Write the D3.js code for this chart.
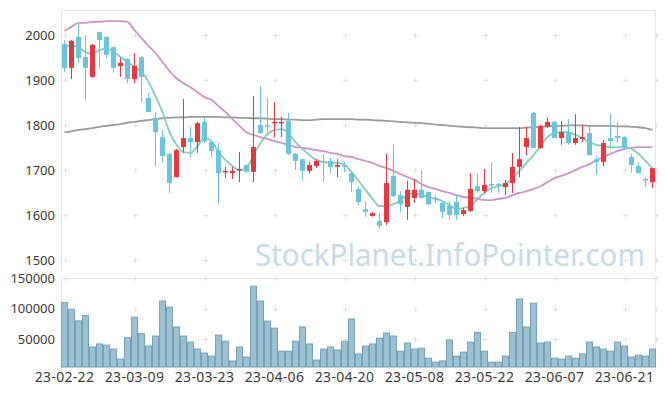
<!DOCTYPE html>
<html>
<head>
<meta charset="utf-8">
<script src="https://cdn.jsdelivr.net/npm/d3@7"></script>
<style>
  body { margin: 0; background: #fff; }
  svg { display: block; font-family: "Noto Sans", sans-serif; }
</style>
</head>
<body>
<svg id="chart" width="665" height="396"></svg>
<script>
const dates = ['23-02-22','23-02-23','23-02-24','23-02-27','23-02-28','23-03-02','23-03-03','23-03-06','23-03-07','23-03-08',
    '23-03-09','23-03-10','23-03-13','23-03-14','23-03-15','23-03-16','23-03-17','23-03-20','23-03-21','23-03-22',
    '23-03-23','23-03-24','23-03-27','23-03-28','23-03-29','23-03-30','23-03-31','23-04-03','23-04-04','23-04-05',
    '23-04-06','23-04-07','23-04-10','23-04-11','23-04-12','23-04-13','23-04-14','23-04-17','23-04-18','23-04-19',
    '23-04-20','23-04-21','23-04-24','23-04-25','23-04-26','23-04-27','23-04-28','23-05-02','23-05-03','23-05-04',
    '23-05-08','23-05-09','23-05-10','23-05-11','23-05-12','23-05-15','23-05-16','23-05-17','23-05-18','23-05-19',
    '23-05-22','23-05-23','23-05-24','23-05-25','23-05-26','23-05-30','23-05-31','23-06-01','23-06-02','23-06-05',
    '23-06-07','23-06-08','23-06-09','23-06-12','23-06-13','23-06-14','23-06-15','23-06-16','23-06-19','23-06-20',
    '23-06-21','23-06-22','23-06-23','23-06-26','23-06-27'];

const open = [1980,1927,1996,1951,1907,2007,1996,1973,1931,1947,
    1902,1951,1860,1816,1773,1736,1684,1751,1771,1762,
    1807,1762,1744,1695,1693,1700,1711,1696,1800,1800,
    1804,1804,1809,1736,1724,1698,1709,1720,1720,1707,
    1711,1693,1658,1613,1598,1587,1584,1687,1644,1618,
    1638,1656,1651,1638,1627,1620,1629,1602,1609,1664,
    1653,1669,1669,1662,1671,1707,1751,1827,1749,1796,
    1807,1771,1784,1760,1769,1782,1724,1718,1771,1776,
    1773,1729,1709,1680,1673];
const high = [1989,1989,2026,2000,1980,2007,1996,1975,1949,1949,
    1960,1953,1871,1829,1789,1738,1747,1858,1796,1807,
    1818,1764,1760,1707,1707,1740,1713,1864,1887,1860,
    1851,1818,1827,1738,1724,1718,1724,1736,1727,1724,
    1718,1696,1664,1629,1607,1604,1736,1756,1653,1676,
    1680,1700,1653,1644,1629,1631,1644,1616,1693,1693,
    1702,1716,1671,1678,1738,1796,1796,1829,1800,1816,
    1809,1809,1813,1824,1800,1798,1731,1767,1824,1807,
    1776,1736,1716,1684,1704];
const low = [1918,1902,1938,1856,1905,1927,1949,1916,1907,1893,
    1893,1851,1829,1707,1716,1649,1684,1738,1729,1738,
    1760,1729,1624,1682,1680,1673,1693,1673,1780,1778,
    1773,1773,1733,1700,1676,1693,1704,1673,1693,1684,
    1696,1651,1622,1596,1596,1569,1578,1640,1607,1589,
    1627,1636,1622,1627,1593,1589,1589,1598,1607,1649,
    1649,1649,1649,1644,1649,1684,1733,1749,1747,1793,
    1771,1756,1756,1756,1762,1733,1689,1709,1747,1760,
    1744,1693,1693,1662,1660];
const close = [1927,1987,1949,1927,1978,1989,1956,1927,1938,1902,
    1931,1907,1829,1784,1731,1671,1744,1771,1762,1804,
    1764,1742,1693,1698,1698,1702,1696,1751,1782,1798,
    1807,1807,1736,1720,1698,1711,1720,1718,1707,1711,
    1709,1673,1629,1607,1604,1576,1671,1642,1624,1656,
    1656,1638,1624,1636,1607,1600,1600,1611,1658,1653,
    1667,1667,1667,1671,1707,1724,1771,1749,1798,1807,
    1771,1784,1760,1771,1773,1733,1718,1760,1764,1771,
    1751,1711,1693,1678,1704];

const volume = [110000,99000,80000,89000,37000,42000,40000,33500,17000,52000,
    86000,59000,38500,55000,112500,102500,70000,55000,45000,33500,
    27000,22000,56500,46500,14000,37000,20500,137000,112500,79500,
    68000,30000,30000,46500,70000,42000,15500,33500,37000,32000,
    46500,83000,25500,38500,42000,51500,60000,55000,30000,43500,
    33500,35000,18500,12000,14000,48500,22000,28500,45000,61000,
    30000,12000,12000,22000,61000,116000,70000,109000,43500,45000,
    18500,17000,22000,18500,25500,45000,37000,33500,30000,45000,
    38500,20500,23500,22000,33500];

const ma5 = [1976,1976,1973,1962,1958,1967,1969,1962,1951,1940,
    1929,1918,1896,1864,1829,1784,1756,1740,1738,1753,
    1771,1764,1740,1722,1709,1700,1704,1733,1760,1780,
    1789,1791,1782,1762,1747,1733,1722,1718,1716,1716,
    1711,1696,1676,1656,1636,1620,1620,1624,1633,1644,
    1649,1644,1640,1636,1631,1622,1613,1616,1620,1636,
    1649,1660,1664,1669,1682,1698,1716,1733,1753,1773,
    1782,1784,1784,1778,1771,1762,1756,1753,1751,1751,
    1751,1747,1736,1720,1704];
const ma20 = [2009,2018,2027,2027,2029,2029,2031,2031,2031,2029,
    2011,1993,1976,1960,1940,1920,1904,1893,1884,1873,
    1862,1856,1842,1829,1813,1798,1784,1778,1773,1769,
    1764,1760,1756,1751,1749,1747,1744,1742,1738,1736,
    1731,1729,1724,1720,1716,1709,1704,1698,1691,1684,
    1678,1669,1662,1658,1653,1649,1644,1640,1638,1636,
    1633,1633,1636,1638,1644,1649,1653,1658,1664,1673,
    1682,1687,1693,1700,1707,1713,1722,1729,1736,1742,
    1747,1749,1751,1751,1751];
const ma60 = [1784,1786,1789,1791,1793,1796,1798,1800,1802,1805,
    1807,1809,1811,1813,1815,1816,1817,1817,1818,1818,
    1818,1818,1818,1817,1817,1816,1816,1815,1815,1814,
    1813,1813,1812,1812,1811,1811,1812,1813,1813,1813,
    1813,1813,1812,1812,1811,1810,1809,1808,1807,1806,
    1805,1804,1803,1801,1800,1798,1797,1796,1795,1794,
    1793,1793,1793,1793,1793,1793,1794,1795,1796,1797,
    1798,1798,1799,1799,1799,1798,1798,1798,1798,1797,
    1797,1796,1795,1793,1789];

const priceTicks = [1500,1600,1700,1800,1900,2000];
const volumeTicks = [50000,100000,150000];
const dateTicks = dates.filter((d, i) => i % 10 === 0);

const svg = d3.select('#chart');

const xScale = d3.scaleBand()
    .domain(dates)
    .range([61, 656]);
const half = xScale.bandwidth() / 2;

const yScale = d3.scaleLinear()
    .domain([1475, 2055])
    .range([271.25, 10.25]);

const vScale = d3.scaleLinear()
    .domain([4000, 150000])
    .range([367, 278.3]);

const gridColor = '#e3e3e3';

// panel frames
svg.append('path')
    .attr('d', 'M61.5,272V10.5H655.5V272')
    .attr('fill', 'none').attr('stroke', gridColor);
svg.append('path')
    .attr('d', 'M61.5,367.5V278.5H655.5V367.5')
    .attr('fill', 'none').attr('stroke', gridColor);

// "+" grid markers
const gridX = dateTicks.map(d => xScale(d) + half).concat([655.5]);
const crosses = [];
gridX.forEach(x => {
    priceTicks.forEach(p => crosses.push([x, yScale(p)]));
    volumeTicks.forEach(v => crosses.push([x, vScale(v)]));
});
svg.append('g').selectAll('path')
    .data(crosses)
    .enter().append('path')
    .attr('d', d => `M${Math.round(d[0]) - 2},${Math.round(d[1]) + 0.5}h5M${Math.round(d[0]) + 0.5},${Math.round(d[1]) - 2}v5`)
    .attr('stroke', '#e2e2e2');

// watermark
svg.append('text')
    .attr('x', 645).attr('y', 266)
    .attr('text-anchor', 'end')
    .attr('textLength', 390)
    .attr('lengthAdjust', 'spacingAndGlyphs')
    .style('font-size', '30px')
    .style('fill', '#c6dae7')
    .text('StockPlanet.InfoPointer.com');

// moving averages
const line = d3.line()
    .x((d, i) => xScale(dates[i]) + half)
    .y(d => yScale(d))
    .curve(d3.curveMonotoneX);

[[ma60, '#9a9a9a'], [ma20, '#cc93cb'], [ma5, '#86cbc1']].forEach(([series, color]) => {
    svg.append('path')
        .attr('d', line(series))
        .attr('fill', 'none')
        .attr('stroke', color)
        .attr('stroke-width', 1.8);
});

// candles
const candles = dates.map((d, i) => ({date: d, o: open[i], h: high[i], l: low[i], c: close[i]}));
const upColor = '#e8373d', downColor = '#6cc4da';

const cg = svg.append('g').selectAll('g')
    .data(candles)
    .enter().append('g');

cg.append('line')
    .attr('x1', d => Math.floor(xScale(d.date) + half) + 0.5)
    .attr('x2', d => Math.floor(xScale(d.date) + half) + 0.5)
    .attr('y1', d => yScale(d.h))
    .attr('y2', d => yScale(d.l))
    .attr('stroke', d => d.c >= d.o ? upColor : downColor);

cg.append('rect')
    .attr('x', d => Math.floor(xScale(d.date) + half) - 2)
    .attr('width', 5)
    .attr('y', d => yScale(Math.max(d.o, d.c)))
    .attr('height', d => Math.max(1.5, yScale(Math.min(d.o, d.c)) - yScale(Math.max(d.o, d.c))))
    .attr('fill', d => d.c >= d.o ? upColor : downColor);

// volume bars
svg.append('g').selectAll('rect')
    .data(volume)
    .enter().append('rect')
    .attr('x', (d, i) => xScale(dates[i]) + 0.5)
    .attr('width', xScale.bandwidth() - 1)
    .attr('y', d => vScale(d))
    .attr('height', d => vScale(4000) - vScale(d))
    .attr('fill', '#9cc0d0')
    .attr('stroke', '#76a3ba')
    .attr('stroke-width', 1);

// axes
const yAxis = d3.axisLeft(yScale).tickValues(priceTicks).tickSize(0).tickPadding(6).tickFormat(d3.format('d'));
const vAxis = d3.axisLeft(vScale).tickValues(volumeTicks).tickSize(0).tickPadding(6).tickFormat(d3.format('d'));
const xAxis = d3.axisBottom(xScale).tickValues(dateTicks).tickSize(0).tickPadding(5);

svg.append('g').attr('transform', 'translate(61,0)').call(yAxis);
svg.append('g').attr('transform', 'translate(61,0)').call(vAxis);
svg.append('g').attr('class', 'xaxis').attr('transform', 'translate(0,367)').call(xAxis);

svg.selectAll('.domain').remove();
svg.selectAll('.tick text')
    .style('font-family', '"Noto Sans", sans-serif')
    .style('font-size', '13px')
    .style('fill', '#3a3a3a');
svg.selectAll('.xaxis .tick text')
    .style('font-size', '14px')
    .style('letter-spacing', '0.3px');
</script>
</body>
</html>
